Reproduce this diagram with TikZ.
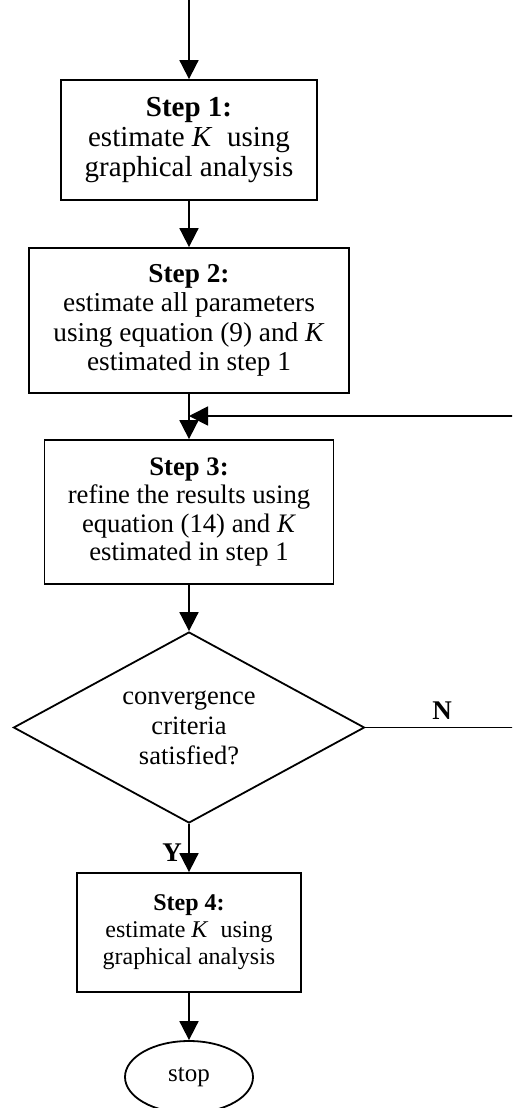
\documentclass[tikz,border=0pt]{standalone}
\usepackage{fontspec}
\setmainfont{Liberation Serif}
\usetikzlibrary{shapes.geometric,arrows.meta}
\begin{document}
\begin{tikzpicture}[x=1pt, y=-1pt, line width=1.8pt, line join=miter, >={Triangle[length=19pt,width=19pt]},
	stepbox/.style={draw, rectangle, align=center, inner sep=0pt},
	test/.style={draw, diamond, align=center, inner sep=0pt, aspect=1.84},
	stopnode/.style={draw, ellipse, inner sep=0pt},
	lbl/.style={font=\fontsize{27}{30}\selectfont\bfseries, inner sep=0pt}]
	\def\cx{189}
	\useasboundingbox (0,0) rectangle (512,1108);
	\clip (0,0) rectangle (512,1108);
	\node[stepbox, minimum width=256pt, minimum height=120pt, font=\fontsize{29}{30}\selectfont] (s1) at (\cx,140) {\textbf{Step 1:}\\estimate \textit{K}\ \ using\\graphical analysis};
	\node[stepbox, minimum width=320pt, minimum height=145pt, font=\fontsize{27.3}{29.5}\selectfont] (s2) at (\cx,320.5) {\textbf{Step 2:}\\estimate all parameters\\using equation (9) and \textit{K}\\estimated in step 1};
	\node[stepbox, minimum width=289pt, minimum height=144pt, font=\fontsize{26.7}{28.5}\selectfont] (s3) at (\cx,512) {\textbf{Step 3:}\\refine the results using\\equation (14) and \textit{K}\\estimated in step 1};
	\node[test, minimum width=351pt, minimum height=191pt, font=\fontsize{26.5}{30}\selectfont] (dec) at (\cx,727.5) {convergence\\criteria\\satisfied?};
	\node[stepbox, minimum width=224pt, minimum height=119pt, font=\fontsize{24}{27}\selectfont] (s4) at (\cx,932.5) {\textbf{Step 4:}\\estimate \textit{K}\ \ using\\graphical analysis};
	\node[stopnode, minimum width=128pt, minimum height=72pt, font=\fontsize{25}{28}\selectfont] (stop) at (\cx,1077) {stop};
	\node[lbl] (no) at (442,711) {N};
	\node[lbl] (yes) at (172,853) {Y};
	\coordinate (entry) at (\cx,-5);
	\coordinate (join) at (\cx,416);
	\draw[->] (entry) -- (s1);
	\draw[->] (s1) -- (s2);
	\draw[->] (s2) -- (s3);
	\draw[->] (s3) -- (dec);
	\draw[->] (dec) -- (s4);
	\draw[->] (s4) -- (stop);
	% loop back when not converged
	\draw[->] (dec.east) -- ++(170,0) |- (join);
\end{tikzpicture}
\end{document}
